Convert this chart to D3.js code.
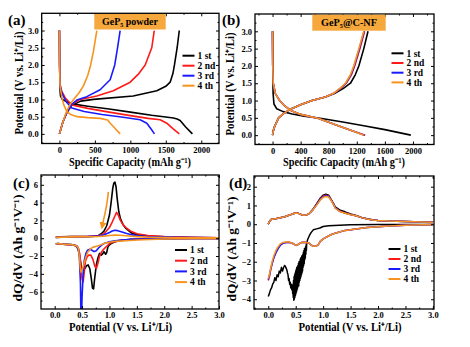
<!DOCTYPE html>
<html>
<head>
<meta charset="utf-8">
<script src="https://cdn.jsdelivr.net/npm/d3@7"></script>
<style>
body { margin: 0; background: #fff; }
svg { display: block; }
text { font-family: "Liberation Serif", "Times New Roman", serif; font-weight: bold; fill: #000; }
</style>
</head>
<body>
<div id="chart"></div>
<script>
//Leyenda y colores fijos
const CYCLES = ['1 st', '2 nd', '3 rd', '4 th'];
const COLOR_1 = '#000000', COLOR_2 = '#ff1a1a', COLOR_3 = '#1a1aff', COLOR_4 = '#f7931e';
const COLORS = [COLOR_1, COLOR_2, COLOR_3, COLOR_4];

//Ticks
const capTicksA = [0, 500, 1000, 1500, 2000];
const capTicksB = [0, 400, 800, 1200, 1600, 2000];
const potTicks = [0.0, 0.5, 1.0, 1.5, 2.0, 2.5, 3.0];
const dqTicksC = [-6, -4, -2, 0, 2, 4, 6];
const dqTicksD = [-4, -3, -2, -1, 0, 1, 2];

//(a) GeP5 powder - [capacidad, potencial]
const powderDis1 = [[0,3.0],[3,2.0],[8,1.3],[15,1.1],[40,1.0],[100,0.94],[175,0.87],[400,0.8],[700,0.72],[1000,0.63],[1300,0.54],[1500,0.49],[1608,0.46],[1660,0.43],[1702,0.39],[1780,0.2],[1875,0.0]];
const powderChg1 = [[0,0],[50,0.35],[100,0.6],[170,0.82],[300,0.95],[480,1.0],[1040,1.1],[1373,1.25],[1500,1.38],[1561,1.5],[1600,1.75],[1622,2.0],[1660,2.5],[1690,3.0]];
const powderDis2 = [[0,3.0],[3,2.0],[8,1.45],[30,1.25],[80,1.05],[175,0.84],[400,0.74],[700,0.63],[1000,0.53],[1250,0.45],[1420,0.41],[1514,0.31],[1600,0.15],[1690,0.0]];
const powderChg2 = [[0,0],[50,0.35],[100,0.6],[170,0.85],[292,1.0],[527,1.1],[760,1.25],[998,1.5],[1120,1.75],[1209,2.0],[1302,2.5],[1337,3.0]];
const powderDis3 = [[0,3.0],[3,2.0],[8,1.4],[40,1.15],[100,0.92],[175,0.75],[350,0.65],[600,0.56],[900,0.48],[1138,0.41],[1232,0.31],[1290,0.15],[1340,0.0]];
const powderChg3 = [[0,0],[50,0.35],[100,0.6],[170,0.85],[245,0.98],[386,1.08],[574,1.28],[715,1.57],[780,2.0],[820,2.5],[856,3.0]];
const powderDis4 = [[0,3.0],[3,2.0],[8,1.4],[30,1.1],[60,0.85],[104,0.65],[150,0.57],[250,0.5],[400,0.47],[574,0.45],[680,0.4],[720,0.3],[790,0.15],[856,0.0]];
const powderChg4 = [[0,0],[50,0.35],[100,0.65],[150,0.85],[200,1.0],[280,1.2],[340,1.4],[400,1.7],[440,2.0],[480,2.4],[527,3.0]];

//(b) GeP5@C-NF - [capacidad, potencial]
const nfDis1 = [[0,3.0],[3,2.0],[8,1.2],[20,0.9],[60,0.76],[150,0.68],[280,0.61],[450,0.55],[700,0.48],[1000,0.38],[1300,0.27],[1600,0.16],[1970,0.0]];
const nfChg1 = [[0,0],[10,0.12],[29,0.25],[86,0.5],[160,0.63],[253,0.75],[400,0.88],[563,1.0],[753,1.1],[900,1.22],[1010,1.35],[1110,1.5],[1180,1.75],[1229,2.0],[1300,2.5],[1360,3.0]];
const nfDis2 = [[0,3.0],[3,2.0],[10,1.5],[40,1.2],[100,1.0],[170,0.85],[253,0.72],[400,0.6],[657,0.48],[896,0.3],[1134,0.13],[1320,0.0]];
const nfChg2 = [[0,0],[10,0.12],[29,0.25],[86,0.5],[160,0.63],[253,0.75],[400,0.88],[563,1.0],[753,1.1],[885,1.22],[970,1.35],[1050,1.5],[1125,1.75],[1170,2.0],[1245,2.5],[1312,3.0]];
const nfDis3 = [[0,3.0],[3,2.0],[10,1.5],[40,1.2],[100,1.0],[170,0.85],[253,0.72],[400,0.6],[657,0.48],[896,0.3],[1134,0.13],[1310,0.0]];
const nfChg3 = [[0,0],[10,0.12],[29,0.25],[86,0.5],[160,0.63],[253,0.75],[400,0.88],[563,1.0],[753,1.1],[882,1.22],[965,1.35],[1045,1.5],[1118,1.75],[1163,2.0],[1237,2.5],[1305,3.0]];
const nfDis4 = [[0,3.0],[3,2.0],[10,1.5],[40,1.2],[100,1.0],[170,0.85],[253,0.72],[400,0.6],[657,0.48],[896,0.3],[1134,0.13],[1300,0.0]];
const nfChg4 = [[0,0],[10,0.12],[29,0.25],[86,0.5],[160,0.63],[253,0.75],[400,0.88],[563,1.0],[753,1.1],[880,1.22],[960,1.35],[1039,1.5],[1110,1.75],[1157,2.0],[1230,2.5],[1300,3.0]];

//(c) dQ/dV GeP5 powder - [potencial, dQ/dV]
const cvPowderDis1 = [[3.0,-0.02],[2.5,-0.03],[2.0,-0.05],[1.6,-0.08],[1.4,-0.12],[1.25,-0.2],[1.15,-0.3],[1.08,-0.45],[1.03,-0.6],[1.0,-0.75],[0.97,-1.0],[0.95,-1.6],[0.93,-1.8],[0.9,-1.5],[0.87,-1.8],[0.85,-1.9],[0.82,-1.7],[0.79,-2.2],[0.76,-3.0],[0.73,-4.5],[0.71,-5.7],[0.69,-5.6],[0.67,-4.6],[0.64,-3.4],[0.61,-3.0],[0.58,-3.1],[0.55,-3.4],[0.52,-3.6],[0.49,-3.3],[0.46,-2.2],[0.43,-1.3],[0.4,-0.9],[0.35,-0.75],[0.25,-0.7],[0.15,-0.66],[0.05,-0.6],[0.02,-0.65]];
const cvPowderChg1 = [[0.02,0.1],[0.1,0.15],[0.3,0.18],[0.5,0.18],[0.7,0.2],[0.8,0.3],[0.85,0.5],[0.9,0.8],[0.95,1.4],[1.0,2.6],[1.03,4.0],[1.06,5.6],[1.08,6.2],[1.1,6.3],[1.12,5.8],[1.14,4.5],[1.17,3.0],[1.2,2.2],[1.25,1.5],[1.3,1.1],[1.4,0.6],[1.5,0.4],[1.7,0.25],[2.0,0.15],[2.5,0.08],[3.0,0.05]];
const cvPowderDis2 = [[3.0,-0.02],[2.5,-0.03],[2.0,-0.06],[1.6,-0.1],[1.4,-0.15],[1.25,-0.22],[1.15,-0.3],[1.05,-0.45],[1.0,-0.6],[0.95,-0.9],[0.9,-1.2],[0.86,-1.5],[0.82,-2.0],[0.79,-2.8],[0.76,-3.4],[0.73,-3.1],[0.7,-2.4],[0.66,-1.9],[0.62,-1.9],[0.59,-2.1],[0.56,-2.6],[0.54,-3.8],[0.52,-4.9],[0.5,-4.6],[0.48,-3.2],[0.46,-1.8],[0.43,-1.1],[0.4,-0.85],[0.3,-0.75],[0.15,-0.68],[0.05,-0.62],[0.02,-0.65]];
const cvPowderChg2 = [[0.02,0.1],[0.3,0.18],[0.6,0.2],[0.8,0.28],[0.9,0.5],[1.0,1.2],[1.05,1.8],[1.1,2.5],[1.13,2.9],[1.16,2.6],[1.2,2.0],[1.25,1.5],[1.3,1.2],[1.4,0.75],[1.5,0.5],[1.7,0.3],[2.0,0.18],[2.5,0.1],[3.0,0.06]];
const cvPowderDis3 = [[3.0,-0.02],[2.5,-0.03],[2.0,-0.05],[1.6,-0.09],[1.4,-0.13],[1.25,-0.2],[1.1,-0.28],[1.0,-0.4],[0.9,-0.6],[0.85,-0.8],[0.8,-1.1],[0.76,-1.4],[0.72,-1.5],[0.68,-1.35],[0.64,-1.25],[0.6,-1.35],[0.57,-1.7],[0.54,-2.5],[0.52,-4.0],[0.5,-6.5],[0.49,-9.0],[0.48,-9.0],[0.47,-5.0],[0.45,-2.0],[0.43,-1.1],[0.4,-0.85],[0.3,-0.72],[0.15,-0.66],[0.05,-0.6],[0.02,-0.65]];
const cvPowderChg3 = [[0.02,0.1],[0.3,0.17],[0.6,0.19],[0.8,0.25],[0.9,0.4],[1.0,0.65],[1.05,0.8],[1.1,0.9],[1.15,0.85],[1.2,0.75],[1.3,0.55],[1.4,0.4],[1.5,0.28],[1.7,0.18],[2.0,0.12],[2.5,0.08],[3.0,0.05]];
const cvPowderDis4 = [[3.0,-0.02],[2.5,-0.04],[2.0,-0.08],[1.5,-0.2],[1.3,-0.28],[1.1,-0.35],[0.95,-0.5],[0.9,-0.6],[0.8,-0.85],[0.7,-1.0],[0.65,-1.2],[0.6,-1.6],[0.56,-2.3],[0.53,-3.0],[0.5,-3.6],[0.48,-3.8],[0.47,-3.5],[0.45,-2.0],[0.43,-1.1],[0.4,-0.85],[0.3,-0.72],[0.15,-0.66],[0.05,-0.6],[0.02,-0.65]];
const cvPowderChg4 = [[0.02,0.1],[0.3,0.15],[0.6,0.17],[0.8,0.2],[0.9,0.24],[1.0,0.3],[1.1,0.35],[1.2,0.33],[1.3,0.28],[1.5,0.18],[1.7,0.12],[2.0,0.08],[2.5,0.05],[3.0,0.04]];
//Flecha naranja (posiciones en unidades de datos)
const arrowC = [[0.98,5.2],[0.95,3.6],[0.9,2.3],[0.87,1.4]];

//(d) dQ/dV GeP5@C-NF - [potencial, dQ/dV]
const cvNfDis1 = [[3.0,-0.01],[2.5,-0.01],[2.0,-0.02],[1.5,-0.03],[1.3,-0.05],[1.1,-0.08],[1.0,-0.12],[0.94,-0.2],[0.88,-0.25],[0.82,-0.3],[0.78,-0.45],[0.75,-0.6],[0.72,-0.8],[0.70,-1.0],[0.695,-1.4],[0.69,-1.1],[0.685,-1.6],[0.68,-1.2],[0.675,-1.8],[0.67,-1.3],[0.665,-1.9],[0.66,-1.3],[0.655,-2.1],[0.65,-1.4],[0.645,-2.2],[0.64,-1.5],[0.635,-2.3],[0.63,-1.6],[0.625,-2.5],[0.62,-1.7],[0.615,-2.6],[0.61,-1.7],[0.605,-2.7],[0.60,-1.8],[0.595,-2.8],[0.59,-1.8],[0.585,-2.9],[0.58,-1.9],[0.575,-3.0],[0.57,-2.0],[0.565,-3.1],[0.56,-2.0],[0.555,-3.3],[0.55,-2.1],[0.545,-3.3],[0.54,-2.2],[0.535,-3.4],[0.53,-2.3],[0.525,-3.5],[0.52,-2.3],[0.515,-3.6],[0.51,-2.4],[0.505,-3.7],[0.50,-2.5],[0.495,-3.8],[0.49,-2.6],[0.485,-3.9],[0.48,-2.7],[0.475,-4.0],[0.47,-2.8],[0.465,-4.05],[0.46,-3.0],[0.455,-3.9],[0.45,-3.2],[0.445,-3.7],[0.44,-3.3],[0.43,-3.5],[0.42,-3.2],[0.41,-3.4],[0.40,-3.1],[0.39,-3.2],[0.38,-2.9],[0.37,-3.0],[0.36,-2.7],[0.35,-2.6],[0.34,-2.45],[0.32,-2.3],[0.30,-2.2],[0.28,-2.3],[0.26,-2.5],[0.24,-2.3],[0.22,-2.6],[0.20,-2.5],[0.18,-2.8],[0.16,-2.7],[0.14,-3.0],[0.12,-2.85],[0.10,-3.1],[0.08,-3.2],[0.06,-3.4],[0.04,-3.5],[0.02,-3.7],[0.0,-3.85]];
const cvNfChg1 = [[0.0,0.0],[0.02,0.15],[0.05,0.25],[0.1,0.28],[0.15,0.3],[0.2,0.33],[0.3,0.4],[0.4,0.5],[0.45,0.56],[0.5,0.6],[0.55,0.58],[0.6,0.52],[0.65,0.48],[0.7,0.5],[0.75,0.58],[0.8,0.74],[0.85,0.95],[0.9,1.18],[0.95,1.4],[1.0,1.55],[1.05,1.6],[1.1,1.55],[1.15,1.3],[1.19,1.1],[1.22,0.92],[1.3,0.76],[1.4,0.66],[1.5,0.55],[1.6,0.46],[1.7,0.36],[1.8,0.29],[1.9,0.24],[2.0,0.2],[2.2,0.17],[2.5,0.15],[2.8,0.12],[3.0,0.1]];
const cvNfDis2 = [[3.0,-0.02],[2.5,-0.05],[2.2,-0.1],[2.0,-0.13],[1.8,-0.18],[1.6,-0.25],[1.4,-0.33],[1.25,-0.45],[1.15,-0.55],[1.05,-0.7],[1.0,-0.78],[0.95,-0.9],[0.91,-1.1],[0.87,-1.17],[0.82,-1.18],[0.78,-1.1],[0.74,-1.0],[0.7,-0.97],[0.65,-0.96],[0.6,-0.98],[0.56,-1.05],[0.52,-1.13],[0.48,-1.08],[0.43,-1.0],[0.38,-0.96],[0.32,-0.97],[0.27,-1.0],[0.22,-1.1],[0.18,-1.27],[0.14,-1.5],[0.1,-1.8],[0.07,-2.1],[0.04,-2.5],[0.02,-2.8],[0.0,-3.0]];
const cvNfChg2 = [[0.0,0.0],[0.02,0.15],[0.05,0.25],[0.1,0.28],[0.15,0.3],[0.2,0.33],[0.3,0.4],[0.4,0.5],[0.45,0.56],[0.5,0.6],[0.55,0.58],[0.6,0.52],[0.65,0.48],[0.7,0.5],[0.75,0.58],[0.8,0.73],[0.85,0.92],[0.9,1.14],[0.95,1.35],[1.0,1.5],[1.05,1.54],[1.1,1.5],[1.15,1.27],[1.19,1.07],[1.22,0.88],[1.3,0.7],[1.4,0.6],[1.5,0.52],[1.6,0.45],[1.7,0.35],[1.8,0.28],[1.9,0.23],[2.0,0.2],[2.2,0.17],[2.5,0.15],[2.8,0.12],[3.0,0.1]];
const cvNfDis3 = [[3.0,-0.02],[2.5,-0.05],[2.2,-0.1],[2.0,-0.13],[1.8,-0.18],[1.6,-0.25],[1.4,-0.33],[1.25,-0.45],[1.15,-0.55],[1.05,-0.7],[1.0,-0.78],[0.95,-0.9],[0.91,-1.1],[0.87,-1.17],[0.82,-1.18],[0.78,-1.1],[0.74,-1.0],[0.7,-0.97],[0.65,-0.96],[0.6,-0.98],[0.56,-1.05],[0.52,-1.13],[0.48,-1.08],[0.43,-1.0],[0.38,-0.97],[0.32,-0.98],[0.27,-1.02],[0.22,-1.12],[0.18,-1.3],[0.14,-1.52],[0.1,-1.8],[0.07,-2.1],[0.04,-2.45],[0.02,-2.75],[0.0,-2.95]];
const cvNfChg3 = [[0.0,0.0],[0.02,0.15],[0.05,0.25],[0.1,0.28],[0.15,0.3],[0.2,0.33],[0.3,0.4],[0.4,0.5],[0.45,0.56],[0.5,0.6],[0.55,0.58],[0.6,0.52],[0.65,0.48],[0.7,0.5],[0.75,0.58],[0.8,0.72],[0.85,0.91],[0.9,1.12],[0.95,1.33],[1.0,1.47],[1.05,1.52],[1.1,1.48],[1.15,1.26],[1.19,1.06],[1.22,0.87],[1.3,0.69],[1.4,0.59],[1.5,0.51],[1.6,0.45],[1.7,0.35],[1.8,0.28],[1.9,0.23],[2.0,0.2],[2.2,0.17],[2.5,0.15],[2.8,0.12],[3.0,0.1]];
const cvNfDis4 = [[3.0,-0.02],[2.5,-0.05],[2.2,-0.1],[2.0,-0.13],[1.8,-0.18],[1.6,-0.25],[1.4,-0.33],[1.25,-0.45],[1.15,-0.55],[1.05,-0.7],[1.0,-0.78],[0.95,-0.9],[0.91,-1.1],[0.87,-1.17],[0.82,-1.18],[0.78,-1.1],[0.74,-1.0],[0.7,-0.97],[0.65,-0.96],[0.6,-0.98],[0.56,-1.05],[0.52,-1.13],[0.48,-1.08],[0.43,-1.0],[0.38,-0.95],[0.32,-0.95],[0.27,-0.97],[0.22,-1.05],[0.18,-1.2],[0.14,-1.4],[0.1,-1.7],[0.07,-2.0],[0.04,-2.4],[0.02,-2.7],[0.0,-2.9]];
const cvNfChg4 = [[0.0,0.0],[0.02,0.15],[0.05,0.25],[0.1,0.28],[0.15,0.3],[0.2,0.33],[0.3,0.4],[0.4,0.5],[0.45,0.56],[0.5,0.6],[0.55,0.58],[0.6,0.52],[0.65,0.48],[0.7,0.5],[0.75,0.58],[0.8,0.72],[0.85,0.9],[0.9,1.1],[0.95,1.3],[1.0,1.43],[1.05,1.48],[1.1,1.45],[1.15,1.25],[1.19,1.05],[1.22,0.85],[1.3,0.68],[1.4,0.58],[1.5,0.5],[1.6,0.45],[1.7,0.35],[1.8,0.28],[1.9,0.23],[2.0,0.2],[2.2,0.17],[2.5,0.15],[2.8,0.12],[3.0,0.1]];

//Lienzo
let svg = d3.select('#chart')
    .append('svg')
      .attr('width', 470)
      .attr('height', 347);

let defs = svg.append('defs');
defs.append('marker')
    .attr('id', 'arrow-head')
    .attr('viewBox', '0 0 10 10')
    .attr('refX', 5).attr('refY', 5)
    .attr('markerWidth', 4.5).attr('markerHeight', 4.5)
    .attr('orient', 'auto')
  .append('path')
    .attr('d', 'M0,0 L10,5 L0,10 Z')
    .attr('fill', COLOR_4);

function minorTicks(major, domain) {
    let step = major[1] - major[0];
    let out = [];
    out.push(major[0] - step / 2);
    major.forEach(function(v) { out.push(v + step / 2); });
    return out.filter(function(v) { return v > domain[0] && v < domain[1]; });
}

function drawPanel(p) {
    let x = d3.scaleLinear().domain(p.xDomain).range([p.box[0], p.box[2]]);
    let y = d3.scaleLinear().domain(p.yDomain).range([p.box[3], p.box[1]]);
    let g = svg.append('g');

    defs.append('clipPath').attr('id', 'clip-' + p.id)
      .append('rect')
        .attr('x', p.box[0]).attr('y', p.box[1])
        .attr('width', p.box[2] - p.box[0]).attr('height', p.box[3] - p.box[1]);

    let line = d3.line().x(function(d) { return x(d[0]); }).y(function(d) { return y(d[1]); });

    //Curvas
    let plot = g.append('g').attr('clip-path', 'url(#clip-' + p.id + ')');
    p.series.forEach(function(curves, i) {
        curves.forEach(function(c) {
            plot.append('path')
                .attr('d', line(c))
                .attr('fill', 'none')
                .attr('stroke', COLORS[i])
                .attr('stroke-width', p.lw || 1.6)
                .attr('stroke-linejoin', 'round');
        });
    });

    if (p.arrow) {
        g.append('path')
            .attr('d', d3.line().curve(d3.curveBasis).x(function(d) { return x(d[0]); }).y(function(d) { return y(d[1]); })(p.arrow))
            .attr('fill', 'none')
            .attr('stroke', COLOR_4)
            .attr('stroke-width', 1.6)
            .attr('marker-end', 'url(#arrow-head)');
    }

    //Ejes
    let xMinor = minorTicks(p.xTicks, p.xDomain), yMinor = minorTicks(p.yTicks, p.yDomain);
    let axes = [
        [d3.axisBottom(x).tickValues(p.xTicks).tickSize(-3).tickPadding(3).tickFormat(p.xFmt), 'translate(0,' + p.box[3] + ')'],
        [d3.axisBottom(x).tickValues(xMinor).tickSize(-1.5).tickFormat(''), 'translate(0,' + p.box[3] + ')'],
        [d3.axisTop(x).tickValues(p.xTicks).tickSize(-3).tickFormat(''), 'translate(0,' + p.box[1] + ')'],
        [d3.axisTop(x).tickValues(xMinor).tickSize(-1.5).tickFormat(''), 'translate(0,' + p.box[1] + ')'],
        [d3.axisLeft(y).tickValues(p.yTicks).tickSize(-3).tickPadding(3).tickFormat(p.yFmt), 'translate(' + p.box[0] + ',0)'],
        [d3.axisLeft(y).tickValues(yMinor).tickSize(-1.5).tickFormat(''), 'translate(' + p.box[0] + ',0)'],
        [d3.axisRight(y).tickValues(p.yTicks).tickSize(-3).tickFormat(''), 'translate(' + p.box[2] + ',0)'],
        [d3.axisRight(y).tickValues(yMinor).tickSize(-1.5).tickFormat(''), 'translate(' + p.box[2] + ',0)']
    ];
    axes.forEach(function(a) {
        let ax = g.append('g').attr('transform', a[1]).call(a[0]);
        ax.select('.domain').remove();
        ax.selectAll('line').attr('stroke', '#000').attr('stroke-width', 1);
        ax.selectAll('text').attr('font-size', 8.5).attr('font-family', null).attr('fill', '#000');
    });

    g.append('rect')
        .attr('x', p.box[0]).attr('y', p.box[1])
        .attr('width', p.box[2] - p.box[0]).attr('height', p.box[3] - p.box[1])
        .attr('fill', 'none').attr('stroke', '#000').attr('stroke-width', 1.3);

    //Títulos de ejes
    g.append('text')
        .attr('x', p.xTitlePos[0]).attr('y', p.xTitlePos[1])
        .attr('text-anchor', 'middle').attr('font-size', 11.5)
        .attr('textLength', p.xTitlePos[2]).attr('lengthAdjust', 'spacingAndGlyphs')
        .text(p.xTitle);
    g.append('text')
        .attr('transform', 'translate(' + p.yTitlePos[0] + ',' + p.yTitlePos[1] + ') rotate(-90)')
        .attr('text-anchor', 'middle').attr('font-size', 11.5)
        .attr('textLength', p.yTitlePos[2]).attr('lengthAdjust', 'spacingAndGlyphs')
        .text(p.yTitle);

    //Etiqueta del panel
    g.append('text').attr('x', p.label[1]).attr('y', p.label[2]).attr('font-size', 15).text(p.label[0]);

    //Recuadro de muestra
    if (p.sample) {
        let s = p.sample;
        g.append('rect').attr('x', s.box[0]).attr('y', s.box[1]).attr('width', s.box[2]).attr('height', s.box[3])
            .attr('fill', '#f6a83c');
        g.append('text')
            .attr('x', s.box[0] + s.box[2] / 2).attr('y', s.box[1] + s.box[3] / 2 + 3.5)
            .attr('text-anchor', 'middle').attr('font-size', 11)
            .attr('textLength', s.len).attr('lengthAdjust', 'spacingAndGlyphs')
            .text(s.text);
    }

    //Leyenda
    CYCLES.forEach(function(c, i) {
        let ly = p.legend[1] + i * p.legend[2];
        g.append('line')
            .attr('x1', p.legend[0]).attr('x2', p.legend[0] + 12)
            .attr('y1', ly).attr('y2', ly)
            .attr('stroke', COLORS[i]).attr('stroke-width', 2);
        g.append('text')
            .attr('x', p.legend[0] + 15).attr('y', ly + 3.2)
            .attr('font-size', 9.5)
            .text(c);
    });
}

let capTitle = 'Specific Capacity (mAh g\u207B\u00B9)';
let potTitle = 'Potential (V vs. Li\u207A/Li)';
let dqTitle = 'dQ/dV (Ah g\u207B\u00B9V\u207B\u00B9)';

drawPanel({
    id: 'a', box: [41.7, 13.3, 219, 143.5], xDomain: [-250, 2250], yDomain: [-0.28, 3.5],
    xTicks: capTicksA, yTicks: potTicks, xFmt: d3.format('d'), yFmt: d3.format('.1f'),
    series: [[powderDis1, powderChg1], [powderDis2, powderChg2], [powderDis3, powderChg3], [powderDis4, powderChg4]],
    xTitle: capTitle, xTitlePos: [130, 166, 122],
    yTitle: potTitle, yTitlePos: [23, 83, 103],
    label: ['(a)', 8, 25],
    sample: { box: [94.3, 14, 71.4, 15.5], text: 'GeP\u2085 powder', len: 56 },
    legend: [182.5, 55.7, 10]
});

drawPanel({
    id: 'b', box: [255, 14, 434, 144.5], xDomain: [-250, 2300], yDomain: [-0.27, 3.5],
    xTicks: capTicksB, yTicks: potTicks, xFmt: d3.format('d'), yFmt: d3.format('.1f'),
    series: [[nfDis1, nfChg1], [nfDis2, nfChg2], [nfDis3, nfChg3], [nfDis4, nfChg4]],
    xTitle: capTitle, xTitlePos: [344, 166, 122],
    yTitle: potTitle, yTitlePos: [234, 84, 103],
    label: ['(b)', 222, 25],
    sample: { box: [312.3, 14.7, 73.4, 16], text: 'GeP\u2085@C-NF', len: 56 },
    legend: [391.5, 53.3, 9.7]
});

drawPanel({
    id: 'c', box: [41, 175, 219, 309], xDomain: [-0.25, 3.0], yDomain: [-7.95, 7.1],
    xTicks: potTicks, yTicks: dqTicksC, xFmt: d3.format('.1f'), yFmt: d3.format('d'),
    series: [[cvPowderDis1, cvPowderChg1], [cvPowderDis2, cvPowderChg2], [cvPowderDis3, cvPowderChg3], [cvPowderDis4, cvPowderChg4]],
    arrow: arrowC,
    xTitle: potTitle, xTitlePos: [120.5, 331, 103],
    yTitle: dqTitle, yTitlePos: [22, 248, 107],
    label: ['(c)', 13, 188],
    legend: [175, 250, 10.7]
});

drawPanel({
    id: 'd', box: [254, 176, 434, 309], xDomain: [-0.26, 3.02], yDomain: [-4.52, 2.57],
    xTicks: potTicks, yTicks: dqTicksD, xFmt: d3.format('.1f'), yFmt: d3.format('d'), lw: 1.5,
    series: [[cvNfDis1, cvNfChg1], [cvNfDis2, cvNfChg2], [cvNfDis3, cvNfChg3], [cvNfDis4, cvNfChg4]],
    xTitle: potTitle, xTitlePos: [350, 331, 103],
    yTitle: dqTitle, yTitlePos: [236, 249, 105],
    label: ['(d)', 229, 188],
    legend: [388.5, 249, 10]
});
</script>
</body>
</html>
